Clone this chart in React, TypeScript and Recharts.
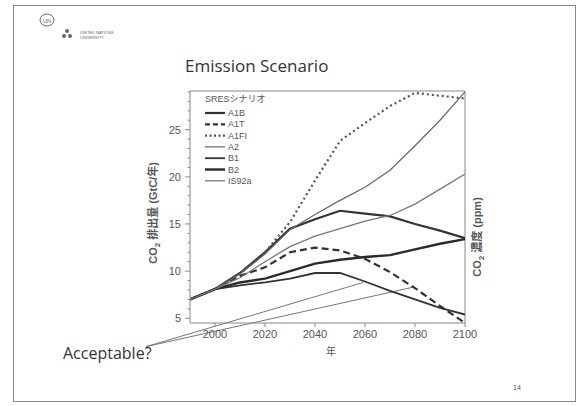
import { LineChart, Line, XAxis, YAxis, ReferenceLine } from 'recharts';

// SRES emission scenarios, GtC/yr
const years = [1990, 2000, 2010, 2020, 2030, 2040, 2050, 2060, 2070, 2080, 2090, 2100];
const a1b = [7.0, 8.1, 9.8, 12.0, 14.5, 15.5, 16.4, 16.1, 15.8, 15.0, 14.3, 13.5];
const a1t = [7.0, 8.1, 9.5, 10.4, 12.0, 12.5, 12.2, 11.3, 9.9, 8.2, 6.3, 4.5];
const a1fi = [7.0, 8.1, 9.7, 12.0, 15.2, 19.6, 23.8, 25.7, 27.5, 28.9, 28.6, 28.3];
const a2 = [7.0, 8.1, 9.7, 11.8, 14.4, 16.0, 17.5, 18.9, 20.7, 23.3, 26.0, 29.0];
const b1 = [7.0, 8.1, 8.5, 8.8, 9.2, 9.8, 9.8, 8.9, 7.9, 7.0, 6.1, 5.4];
const b2 = [7.0, 8.1, 8.8, 9.2, 10.0, 10.8, 11.2, 11.5, 11.7, 12.3, 12.9, 13.4];
const is92a = [7.0, 8.1, 9.3, 11.0, 12.6, 13.7, 14.5, 15.3, 15.9, 17.1, 18.7, 20.3];

const xTicks = [2000, 2020, 2040, 2060, 2080, 2100];
const yTicks = [5, 6, 7, 8, 9, 10, 11, 12, 13, 14, 15, 16, 17, 18, 19, 20, 21, 22, 23, 24, 25, 26, 27, 28, 29];

const series = [
  { key: 'A1B', values: a1b, color: '#333', width: 2.2, dash: undefined, legendDash: undefined },
  { key: 'A1T', values: a1t, color: '#333', width: 2.2, dash: '7 4', legendDash: '5 3' },
  { key: 'A1FI', values: a1fi, color: '#555', width: 2.2, dash: '2 3', legendDash: '2 2.5' },
  { key: 'A2', values: a2, color: '#666', width: 1.2, dash: undefined, legendDash: undefined },
  { key: 'B1', values: b1, color: '#333', width: 1.8, dash: undefined, legendDash: undefined },
  { key: 'B2', values: b2, color: '#2a2a2a', width: 2.4, dash: undefined, legendDash: undefined },
  { key: 'IS92a', values: is92a, color: '#777', width: 1.3, dash: undefined, legendDash: undefined },
];

const data = years.map((year, i) => {
  const row: Record<string, number> = { year };
  series.forEach((s) => {
    row[s.key] = s.values[i];
  });
  return row;
});

const axisColor = '#888';
const labelFont = 'Liberation Sans, Arial, sans-serif';

const XTick = (props: any) => {
  const { x, y, payload } = props;
  return (
    <text x={x} y={y} dy={9} textAnchor="middle" fontSize={11} fill="#555" fontFamily={labelFont}>
      {payload.value}
    </text>
  );
};

const YTick = (props: any) => {
  const { x, y, payload } = props;
  const major = payload.value % 5 === 0;
  return (
    <g>
      <line x1={x} x2={x - (major ? 5 : 2.5)} y1={y} y2={y} stroke={axisColor} strokeWidth={1} />
      {major && (
        <text x={x - 9} y={y} dy={4} textAnchor="end" fontSize={11} fill="#555" fontFamily={labelFont}>
          {payload.value}
        </text>
      )}
    </g>
  );
};

export default function App() {
  return (
    <div style={{ position: 'absolute', left: 0, top: 0, width: 579, height: 406, background: '#fff', overflow: 'hidden' }}>
      {/* slide frame */}
      <div style={{ position: 'absolute', left: 13, top: 5, width: 563, height: 397, border: '1.5px solid #888', boxSizing: 'border-box' }} />

      <div style={{ position: 'absolute', left: 0, top: 0 }}>
        <LineChart width={579} height={406} data={data} margin={{ top: 91, right: 114, bottom: 0, left: 0 }}>
          <XAxis
            dataKey="year"
            type="number"
            domain={[1990, 2100]}
            ticks={xTicks}
            allowDataOverflow
            height={83}
            stroke={axisColor}
            tickSize={4}
            tickMargin={2}
            tick={<XTick />}
          />
          <YAxis
            type="number"
            domain={[4.5, 29.1]}
            ticks={yTicks}
            allowDataOverflow
            width={190}
            stroke={axisColor}
            tickLine={false}
            tickSize={0}
            tickMargin={0}
            tick={<YTick />}
            interval={0}
          />
          <ReferenceLine y={29.1} stroke={axisColor} />
          <ReferenceLine x={2100} stroke={axisColor} />
          {/* pointers from the "Acceptable?" note */}
          <ReferenceLine
            segment={[{ x: 1972.5, y: 2.0 }, { x: 2059.3, y: 8.8 }]}
            stroke="#777"
            strokeWidth={1}
            ifOverflow="visible"
          />
          <ReferenceLine
            segment={[{ x: 1972.5, y: 2.0 }, { x: 2079.3, y: 8.3 }]}
            stroke="#777"
            strokeWidth={1}
            ifOverflow="visible"
          />
          {series.map((s) => (
            <Line
              key={s.key}
              dataKey={s.key}
              type="linear"
              stroke={s.color}
              strokeWidth={s.width}
              strokeDasharray={s.dash}
              dot={false}
              isAnimationActive={false}
            />
          ))}
        </LineChart>
      </div>

      <svg width={579} height={406} style={{ position: 'absolute', left: 0, top: 0, pointerEvents: 'none' }}>
        {/* legend */}
        <g transform="translate(205 93)">
          <text x={0} y={9} fontSize={9} fill="#555" fontFamily="Liberation Sans, Noto Sans CJK JP, sans-serif">
            SRESシナリオ
          </text>
          {series.map((s, i) => {
            const y = 20 + i * 11.3;
            return (
              <g key={s.key}>
                <line x1={0} x2={20} y1={y} y2={y} stroke={s.color} strokeWidth={s.width} strokeDasharray={s.legendDash} />
                <text x={23} y={y + 3} fontSize={9} fill="#555" fontFamily={labelFont}>
                  {s.key}
                </text>
              </g>
            );
          })}
        </g>

        {/* UN emblem and UNU logo */}
        <ellipse cx={47} cy={20} rx={7} ry={6} fill="none" stroke="#666" strokeWidth={1} />
        <text x={47} y={23} fontSize={6} textAnchor="middle" fill="#666" fontFamily="Liberation Sans, sans-serif">UN</text>
        <circle cx={67} cy={31} r={2} fill="#666" />
        <circle cx={64} cy={36} r={2} fill="#666" />
        <circle cx={70} cy={36} r={2} fill="#666" />
        <text x={80} y={34} fontSize={4} fill="#666" fontFamily="Liberation Sans, sans-serif">UNITED NATIONS</text>
        <text x={80} y={39} fontSize={4} fill="#666" fontFamily="Liberation Sans, sans-serif">UNIVERSITY</text>

        <text x={185} y={72} fontSize={17} fill="#333" fontFamily="Open Sans, sans-serif">
          Emission Scenario
        </text>

        <text
          transform="translate(157 213) rotate(-90)"
          textAnchor="middle"
          fontSize={11}
          fill="#555"
          fontWeight={600}
          fontFamily="Liberation Sans, Noto Sans CJK JP, sans-serif"
        >
          CO<tspan fontSize={8} dy={3}>2</tspan>
          <tspan dy={-3}> 排出量 (GtC/年)</tspan>
        </text>
        <text
          transform="translate(481 237) rotate(-90)"
          textAnchor="middle"
          fontSize={11}
          fill="#555"
          fontWeight={600}
          fontFamily="Liberation Sans, Noto Sans CJK JP, sans-serif"
        >
          CO<tspan fontSize={8} dy={3}>2</tspan>
          <tspan dy={-3}> 濃度 (ppm)</tspan>
        </text>
        <text x={331} y={355} fontSize={10} textAnchor="middle" fill="#555" fontFamily="Noto Sans CJK JP, sans-serif">
          年
        </text>

        <text x={63} y={359} fontSize={16} fill="#333" fontFamily="Open Sans, sans-serif">
          Acceptable?
        </text>
        <text x={517} y={390} fontSize={7} textAnchor="middle" fill="#555" fontFamily="Liberation Sans, sans-serif">
          14
        </text>
      </svg>
    </div>
  );
}
